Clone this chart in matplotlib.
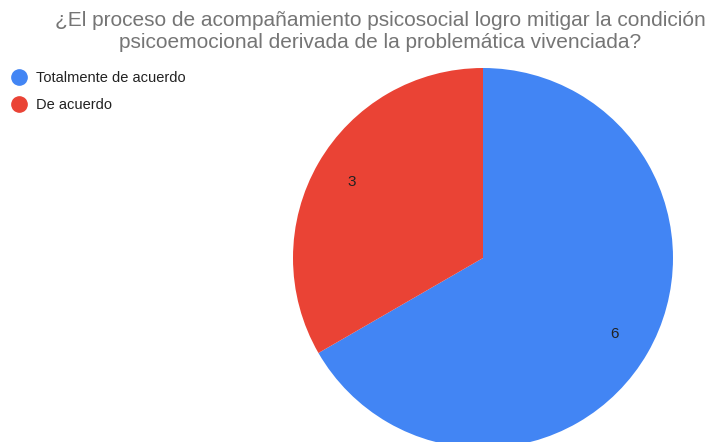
import matplotlib
matplotlib.use("Agg")
import matplotlib.pyplot as plt
from matplotlib.lines import Line2D

plt.rcParams["font.family"] = ["Liberation Sans", "DejaVu Sans"]

categories = ["Totalmente de acuerdo", "De acuerdo"]
values = [6, 3]
colors = ["#4285F4", "#EA4335"]
title_lines = ["¿El proceso de acompañamiento psicosocial logro mitigar la condición",
               "psicoemocional derivada de la problemática vivenciada?"]

W, H = 707, 442
fig = plt.figure(figsize=(W / 100, H / 100), dpi=100)

# pie centre (483, 258) px, radius 190 px
cx, cy, r = 483, 258, 190
ax = fig.add_axes([(cx - r) / W, (H - cy - r) / H, 2 * r / W, 2 * r / H])
wedges, texts = ax.pie(values, colors=colors, startangle=90, counterclock=False,
                       labels=[str(v) for v in values], labeldistance=0.8,
                       textprops=dict(fontsize=11, color="#222222"))
for t in texts:
    t.set_ha("center")
    t.set_va("center")
ax.set_xlim(-1, 1)
ax.set_ylim(-1, 1)
ax.set_aspect("equal")
ax.axis("off")

# two title lines, placed separately to get the wider line spacing
for i, line in enumerate(title_lines):
    fig.text(380 / W, 1 - (20 + 22 * i) / H, line, ha="center", va="center",
             fontsize=15, color="#757575")

handles = [Line2D([], [], marker="o", linestyle="", markersize=11,
                  markerfacecolor=c, markeredgecolor=c) for c in colors]
fig.legend(handles, categories, loc="upper left",
           bbox_to_anchor=(0 / W, 1 - 61 / H), frameon=False, fontsize=10.5,
           handletextpad=0.55, labelspacing=0.85, labelcolor="#222222",
           handlelength=1.2, borderpad=0.2)

fig.savefig("out.png", dpi=100)
